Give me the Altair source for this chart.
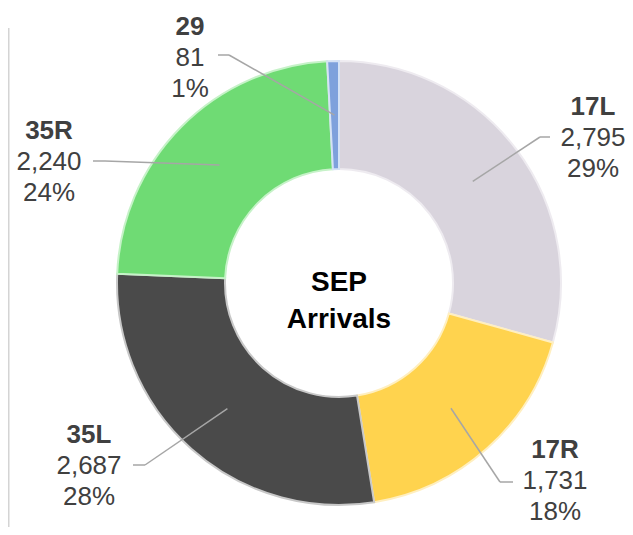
import altair as alt
import pandas as pd
import numpy as np

# ---- data ----
runways = ["17L", "17R", "35L", "35R", "29"]
arrivals = [2795, 1731, 2687, 2240, 81]
pct_labels = [29, 18, 28, 24, 1]

# ---- style / layout ----
fill_colors = ["#D9D4DD", "#FFD34E", "#4A4A4A", "#6FDB74", "#7EA1DC"]
stroke_colors = ["#EEEBF0", "#FFEFC0", "#C8C8C8", "#C6F2C8", "#D5E2F5"]
W, H = 617, 519
M = 8  # page margin
CX, CY = 339 - M, 283 - M
R_IN, R_OUT = 114, 222
R_MID = (R_IN + R_OUT) / 2
# label text centre (middle line) in screen pixels, leader end & elbow
label_x = [593, 555, 89, 49, 190]
label_y = [138, 481, 466, 162, 58]
lead_end_x = [550, 513, 133, 93, 218]
lead_y = [137, 482, 465, 161, 55]
elbow_x = [540, 500, 145, 105, 229]
LINE_GAP = 31

vals = np.array(arrivals, dtype=float)
cum = np.cumsum(vals) - vals / 2
ang = cum / vals.sum() * 2 * np.pi

df = pd.DataFrame({
    "runway": runways,
    "value": arrivals,
    "idx": list(range(len(runways))),
    "value_txt": [f"{v:,}" for v in arrivals],
    "pct_txt": [f"{p}%" for p in pct_labels],
    "lx": [x - M for x in label_x],
    "ly": [y - M for y in label_y],
    "ly_top": [y - M - LINE_GAP for y in label_y],
    "ly_bot": [y - M + LINE_GAP for y in label_y],
    "ey": [y - M for y in lead_y],
    "ex": [x - M for x in lead_end_x],
    "bx": [x - M for x in elbow_x],
    "sx": CX + R_MID * np.sin(ang),
    "sy": CY - R_MID * np.cos(ang),
})

base = alt.Chart(df)

arcs = base.mark_arc(innerRadius=R_IN, outerRadius=R_OUT, strokeWidth=2).encode(
    theta=alt.Theta("value:Q", stack=True),
    order=alt.Order("idx:Q"),
    color=alt.Color("runway:N", scale=alt.Scale(domain=runways, range=fill_colors), legend=None),
    stroke=alt.Stroke("runway:N", scale=alt.Scale(domain=runways, range=stroke_colors), legend=None),
    x=alt.value(CX),
    y=alt.value(CY),
)

lead_color = "#A6A6A6"
seg1 = base.mark_rule(color=lead_color, strokeWidth=1.5).encode(
    x=alt.X("ex:Q", scale=None), x2="bx:Q",
    y=alt.Y("ey:Q", scale=None), y2="ey:Q",
)
seg2 = base.mark_rule(color=lead_color, strokeWidth=1.5).encode(
    x=alt.X("bx:Q", scale=None), x2="sx:Q",
    y=alt.Y("ey:Q", scale=None), y2="sy:Q",
)

FONT = "Liberation Sans"
txt_color = "#404040"
name_txt = base.mark_text(font=FONT, fontSize=26, fontWeight="bold", color=txt_color,
                          align="center", baseline="middle").encode(
    x=alt.X("lx:Q", scale=None), y=alt.Y("ly_top:Q", scale=None), text="runway:N")
val_txt = base.mark_text(font=FONT, fontSize=26, color=txt_color,
                         align="center", baseline="middle").encode(
    x=alt.X("lx:Q", scale=None), y=alt.Y("ly:Q", scale=None), text="value_txt:N")
pct_txt = base.mark_text(font=FONT, fontSize=26, color=txt_color,
                         align="center", baseline="middle").encode(
    x=alt.X("lx:Q", scale=None), y=alt.Y("ly_bot:Q", scale=None), text="pct_txt:N")

center = alt.Chart(pd.DataFrame({"t": ["SEP\nArrivals"]})).mark_text(
    font=FONT, fontSize=28, fontWeight="bold", color="#000000",
    align="center", baseline="middle", lineBreak="\n", lineHeight=37,
).encode(x=alt.value(CX), y=alt.value(283 - M), text="t:N")

edge = alt.Chart(pd.DataFrame({"a": [0]})).mark_rule(color="#D4D4D4", strokeWidth=1.5).encode(
    x=alt.value(0.75), y=alt.value(28 - M), y2=alt.value(H))

chart = alt.layer(edge, arcs, seg1, seg2, name_txt, val_txt, pct_txt, center).properties(
    width=W, height=H,
    autosize=alt.AutoSizeParams(type="none"),
    padding=0,
).configure_view(stroke=None)

chart.save("out.html", embed_options={"renderer": "svg", "actions": False})
